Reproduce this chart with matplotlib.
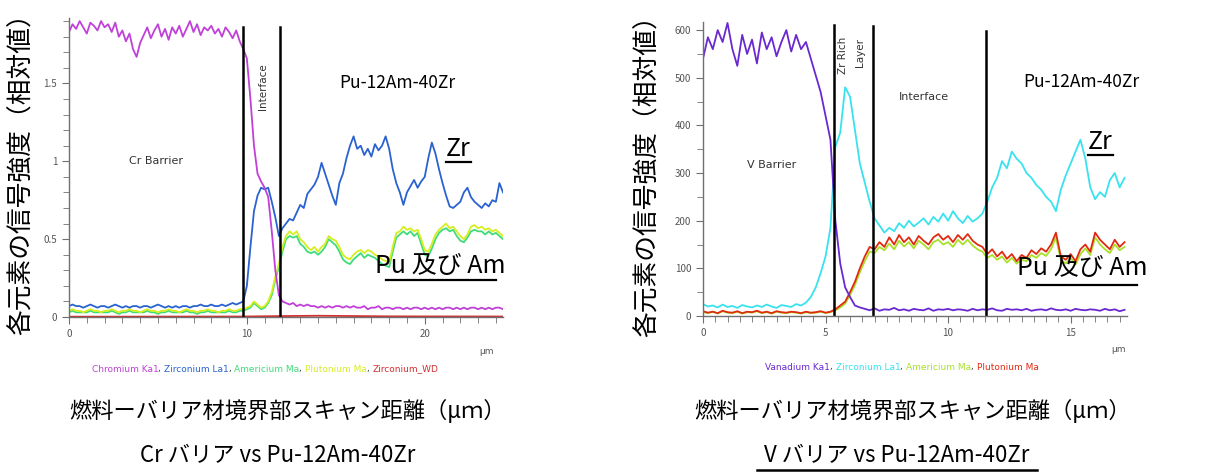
import numpy as np
import matplotlib
matplotlib.use('Agg')
import matplotlib.pyplot as plt
from matplotlib.lines import Line2D
from matplotlib.ticker import MultipleLocator, FuncFormatter
from matplotlib.offsetbox import TextArea, HPacker, AnnotationBbox

plt.rcParams['font.family'] = ['Noto Sans CJK JP', 'DejaVu Sans']

# ---- 左: Cr バリア (0.2 µm 刻み, 0〜24.4 µm)
cr_x = np.round(np.arange(123) * 0.2, 1)
cr_cr = [1.83, 1.88, 1.85, 1.90, 1.86, 1.82, 1.89, 1.87, 1.84, 1.90,
         1.86, 1.88, 1.83, 1.89, 1.80, 1.84, 1.77, 1.82, 1.72, 1.67,
         1.76, 1.81, 1.86, 1.79, 1.84, 1.88, 1.80, 1.85, 1.78, 1.86,
         1.82, 1.87, 1.80, 1.85, 1.90, 1.83, 1.88, 1.81, 1.86, 1.84,
         1.87, 1.82, 1.85, 1.80, 1.86, 1.83, 1.79, 1.84, 1.77,
         1.72, 1.66, 1.40, 1.10, 0.92, 0.87, 0.83, 0.77, 0.55, 0.30, 0.14, 0.10,
         0.09, 0.08, 0.09, 0.07, 0.08, 0.07, 0.08, 0.07, 0.07, 0.06,
         0.07, 0.06, 0.07, 0.06, 0.07, 0.07, 0.06, 0.07, 0.06, 0.07,
         0.06, 0.06, 0.07, 0.05, 0.06, 0.06, 0.07, 0.05, 0.06, 0.06,
         0.05, 0.06, 0.06, 0.05, 0.06, 0.05, 0.06, 0.06, 0.05, 0.06,
         0.05, 0.06, 0.05, 0.06, 0.05, 0.06, 0.06, 0.05, 0.06, 0.05,
         0.06, 0.05, 0.06, 0.06, 0.05, 0.06, 0.05, 0.06, 0.05, 0.06, 0.06, 0.05]
cr_zr = [0.07, 0.08, 0.07, 0.07, 0.06, 0.07, 0.08, 0.07, 0.06, 0.07,
         0.07, 0.06, 0.07, 0.08, 0.07, 0.06, 0.07, 0.06, 0.07, 0.07,
         0.06, 0.07, 0.07, 0.06, 0.07, 0.08, 0.07, 0.06, 0.07, 0.06,
         0.07, 0.06, 0.07, 0.07, 0.06, 0.07, 0.07, 0.08, 0.07, 0.07,
         0.08, 0.07, 0.07, 0.08, 0.07, 0.08, 0.09, 0.08, 0.09,
         0.10, 0.20, 0.45, 0.68, 0.78, 0.83, 0.82, 0.83, 0.74, 0.64, 0.52, 0.57,
         0.60, 0.63, 0.62, 0.67, 0.72, 0.70, 0.79, 0.82, 0.85, 0.90,
         0.99, 0.92, 0.85, 0.78, 0.72, 0.86, 0.92, 1.02, 1.10, 1.16,
         1.08, 1.10, 1.04, 1.08, 1.03, 1.11, 1.07, 1.10, 1.16, 1.08,
         0.95, 0.86, 0.80, 0.72, 0.80, 0.84, 0.88, 0.83, 0.87, 0.90,
         1.02, 1.12, 1.05, 0.95, 0.86, 0.78, 0.71, 0.70, 0.72, 0.74,
         0.80, 0.83, 0.77, 0.74, 0.72, 0.70, 0.73, 0.71, 0.75, 0.74, 0.86, 0.80]
cr_am = [0.03, 0.04, 0.03, 0.03, 0.03, 0.03, 0.04, 0.03, 0.03, 0.03,
         0.03, 0.03, 0.04, 0.03, 0.02, 0.03, 0.03, 0.04, 0.03, 0.03,
         0.03, 0.03, 0.04, 0.03, 0.03, 0.02, 0.03, 0.03, 0.04, 0.03,
         0.03, 0.03, 0.03, 0.04, 0.03, 0.03, 0.02, 0.03, 0.03, 0.04,
         0.03, 0.03, 0.03, 0.03, 0.03, 0.04, 0.03, 0.03, 0.04,
         0.04, 0.05, 0.06, 0.09, 0.07, 0.05, 0.06, 0.09, 0.14, 0.24, 0.32, 0.42,
         0.50, 0.52, 0.51, 0.52, 0.47, 0.45, 0.42, 0.41, 0.42, 0.40,
         0.42, 0.45, 0.50, 0.48, 0.46, 0.42, 0.37, 0.35, 0.34, 0.37,
         0.39, 0.41, 0.38, 0.40, 0.39, 0.38, 0.36, 0.34, 0.33, 0.32,
         0.42, 0.51, 0.53, 0.55, 0.53, 0.55, 0.52, 0.54, 0.47, 0.40,
         0.39, 0.44, 0.50, 0.54, 0.56, 0.57, 0.55, 0.56, 0.52, 0.49,
         0.48, 0.51, 0.55, 0.56, 0.55, 0.55, 0.53, 0.55, 0.53, 0.54, 0.52, 0.50]
cr_pu = [0.04, 0.05, 0.04, 0.04, 0.03, 0.04, 0.05, 0.04, 0.04, 0.03,
         0.04, 0.04, 0.05, 0.04, 0.03, 0.04, 0.04, 0.05, 0.04, 0.04,
         0.03, 0.04, 0.05, 0.04, 0.04, 0.03, 0.04, 0.04, 0.05, 0.04,
         0.04, 0.03, 0.04, 0.05, 0.04, 0.04, 0.03, 0.04, 0.04, 0.05,
         0.04, 0.04, 0.03, 0.04, 0.04, 0.05, 0.04, 0.04, 0.05,
         0.05, 0.06, 0.07, 0.10, 0.08, 0.06, 0.07, 0.10, 0.16, 0.26, 0.34, 0.45,
         0.52, 0.55, 0.53, 0.55, 0.50, 0.48, 0.45, 0.43, 0.45, 0.42,
         0.45, 0.47, 0.52, 0.50, 0.49, 0.45, 0.40, 0.38, 0.37, 0.40,
         0.42, 0.43, 0.41, 0.43, 0.42, 0.40, 0.39, 0.37, 0.36, 0.35,
         0.45, 0.54, 0.55, 0.58, 0.56, 0.57, 0.55, 0.56, 0.50, 0.43,
         0.42, 0.47, 0.53, 0.56, 0.58, 0.60, 0.57, 0.58, 0.55, 0.52,
         0.50, 0.53, 0.58, 0.59, 0.57, 0.58, 0.56, 0.57, 0.55, 0.56, 0.54, 0.52]
cr_wd_x = [0, 9.8, 12, 14, 16, 18, 24.4]
cr_wd = [0.002, 0.003, 0.006, 0.008, 0.006, 0.004, 0.003]
cr_bounds = [9.8, 11.85]

# ---- 右: V バリア (0.2 µm 刻み, 0〜17.2 µm)
v_x = np.round(np.arange(87) * 0.2, 1)
v_v = [540, 585, 560, 600, 575, 615, 560, 525, 590, 550,
       580, 530, 595, 560, 585, 545, 575, 600, 555, 590,
       560, 575, 540, 505, 470, 420, 370, 200, 110, 60, 40, 22, 18,
       15, 12, 16, 11, 14, 13, 17, 12, 14, 11,
       15, 13, 12, 16, 11, 14, 13, 15, 12, 14,
       13, 11, 15, 12, 14, 13, 16, 12, 11, 15,
       13, 14, 12, 15, 11, 13, 14, 12, 16, 13,
       12, 14, 11, 15, 13, 12, 14, 13, 11, 15, 12, 14, 10, 13]
v_zr = [25, 20, 22, 18, 24, 19, 21, 17, 23, 20,
        18, 22, 19, 24, 20, 17, 23, 21, 19, 25,
        22, 28, 40, 60, 90, 125, 185, 355, 385, 480, 460, 390, 320, 280, 240,
        205, 190, 175, 185, 178, 195, 185, 200, 188, 196,
        205, 192, 208, 198, 215, 200, 220, 205, 195, 210,
        198, 205, 215, 240, 270, 290, 325, 310, 345, 330,
        320, 300, 290, 275, 265, 250, 240, 220, 265, 295,
        320, 345, 370, 330, 270, 245, 260, 250, 285, 300, 270, 290]
v_pu = [10, 7, 9, 6, 11, 8, 7, 10, 6, 9,
        8, 11, 7, 9, 6, 10, 8, 7, 9, 8,
        6, 9, 7, 8, 10, 7, 9,
        14, 22, 30, 50, 72, 100, 125, 145, 140, 155, 145, 165, 150, 170,
        155, 165, 150, 168, 158, 150, 165, 172, 160, 168, 155, 170, 160, 172, 158, 150,
        145, 130, 140, 125, 135, 120, 130, 115, 128, 122, 138, 130, 142, 135, 150, 175,
        125, 118, 130, 115, 140, 150, 135, 175, 160, 150, 140, 160, 145, 155]
v_am = [8, 6, 9, 5, 10, 7, 6, 9, 5, 8,
        7, 10, 6, 8, 5, 9, 7, 6, 8, 7,
        5, 8, 6, 7, 9, 6, 8,
        12, 18, 26, 44, 65, 92, 115, 135, 132, 145, 138, 152, 140, 158,
        146, 155, 142, 158, 150, 140, 155, 160, 150, 155, 145, 160, 150, 160, 148, 140,
        135, 122, 128, 118, 125, 112, 122, 110, 118, 115, 128, 122, 132, 126, 140, 165,
        118, 110, 122, 108, 130, 142, 128, 165, 150, 140, 132, 150, 138, 145]
v_bounds = [5.33, 6.92, 11.56]
v_tops = [610, 608, 598]

W, H = 1226, 472
fig = plt.figure(figsize=(W / 100, H / 100), dpi=100)


def fx(x):
    return x / W


def fy(y):
    return 1 - y / H


def underline(x0, x1, y, lw=1.6):
    fig.add_artist(Line2D([fx(x0), fx(x1)], [fy(y), fy(y)],
                          transform=fig.transFigure, color='black', lw=lw))


def style_axes(ax):
    for s in ['top', 'right']:
        ax.spines[s].set_visible(False)
    for s in ['left', 'bottom']:
        ax.spines[s].set_color('#707070')
        ax.spines[s].set_linewidth(1.0)
    ax.tick_params(which='both', direction='out', colors='#707070',
                   labelsize=7, labelcolor='#555555')
    ax.tick_params(which='major', length=5)
    ax.tick_params(which='minor', length=4)
    ax.yaxis.set_major_formatter(FuncFormatter(lambda v, p: '%g' % v))


def color_line(pieces, x, y):
    areas = [TextArea(t, textprops=dict(color=c, fontsize=6.5, family='DejaVu Sans'))
             for t, c in pieces]
    box = HPacker(children=areas, align='baseline', pad=0, sep=0)
    ab = AnnotationBbox(box, (fx(x), fy(y)), xycoords='figure fraction',
                        frameon=False, box_alignment=(0.5, 0.5))
    fig.add_artist(ab)


# ---------------- 左グラフ
ax1 = fig.add_axes([fx(69), fy(317), fx(503) - fx(69), fy(18) - fy(317)])
ax1.plot(cr_x, cr_am, color='#3fdc7a', lw=1.3)
ax1.plot(cr_x, cr_pu, color='#d6ee1e', lw=1.3)
ax1.plot(cr_wd_x, cr_wd, color='#d03030', lw=1.3)
ax1.plot(cr_x, cr_zr, color='#2a62d0', lw=1.3)
ax1.plot(cr_x, cr_cr, color='#c040d8', lw=1.3)
for b in cr_bounds:
    ax1.plot([b, b], [0, 1.86], color='black', lw=1.8)
ax1.set_xlim(0, 24.4)
ax1.set_ylim(0, 1.92)
ax1.xaxis.set_major_locator(MultipleLocator(10))
ax1.xaxis.set_minor_locator(MultipleLocator(1))
ax1.yaxis.set_major_locator(MultipleLocator(0.5))
ax1.yaxis.set_minor_locator(MultipleLocator(0.1))
style_axes(ax1)
ax1.text(4.9, 1.0, 'Cr Barrier', fontsize=8, color='#333333', ha='center', va='center',
         family='DejaVu Sans')
ax1.text(10.9, 1.48, 'Interface', fontsize=7.5, color='#333333', rotation=90,
         ha='center', va='center', family='DejaVu Sans')
fig.text(fx(397), fy(83), 'Pu-12Am-40Zr', fontsize=12.5, ha='center', va='center')
fig.text(fx(458), fy(149), 'Zr', fontsize=18, ha='center', va='center')
underline(446, 471, 162)
fig.text(fx(440), fy(266), 'Pu 及び Am', fontsize=18, ha='center', va='center')
underline(386, 496, 280)
fig.text(fx(486), fy(352), 'µm', fontsize=6.5, color='#555555', ha='center', va='center',
         family='DejaVu Sans')
color_line([('Chromium Ka1', '#c040d8'), (', ', '#333333'),
            ('Zirconium La1', '#2a62d0'), (', ', '#333333'),
            ('Americium Ma', '#3fdc7a'), (', ', '#333333'),
            ('Plutonium Ma', '#d6ee1e'), (', ', '#333333'),
            ('Zirconium_WD', '#d03030')], 265, 369)

# ---------------- 右グラフ
ax2 = fig.add_axes([fx(703), fy(316), fx(1127) - fx(703), fy(22) - fy(316)])
ax2.plot(v_x, v_zr, color='#38e2ee', lw=1.3)
ax2.plot(v_x, v_am, color='#a8e02a', lw=1.3)
ax2.plot(v_x, v_pu, color='#e02a12', lw=1.3)
ax2.plot(v_x, v_v, color='#6a28d0', lw=1.3)
for b, t in zip(v_bounds, v_tops):
    ax2.plot([b, b], [0, t], color='black', lw=1.8)
ax2.set_xlim(0, 17.3)
ax2.set_ylim(0, 617)
ax2.xaxis.set_major_locator(MultipleLocator(5))
ax2.xaxis.set_minor_locator(MultipleLocator(0.5))
ax2.yaxis.set_major_locator(MultipleLocator(100))
ax2.yaxis.set_minor_locator(MultipleLocator(50))
style_axes(ax2)
ax2.text(2.8, 317, 'V Barrier', fontsize=8, color='#333333', ha='center', va='center',
         family='DejaVu Sans')
ax2.text(5.72, 548, 'Zr Rich', fontsize=7.5, color='#333333', rotation=90,
         ha='center', va='center', family='DejaVu Sans')
ax2.text(6.4, 552, 'Layer', fontsize=7.5, color='#333333', rotation=90,
         ha='center', va='center', family='DejaVu Sans')
ax2.text(9.0, 459, 'Interface', fontsize=8, color='#333333', ha='center', va='center',
         family='DejaVu Sans')
fig.text(fx(1081), fy(82), 'Pu-12Am-40Zr', fontsize=12.5, ha='center', va='center')
fig.text(fx(1100), fy(142), 'Zr', fontsize=18, ha='center', va='center')
underline(1088, 1113, 155)
fig.text(fx(1082), fy(268), 'Pu 及び Am', fontsize=18, ha='center', va='center')
underline(1027, 1137, 285)
fig.text(fx(1119), fy(350), 'µm', fontsize=6.5, color='#555555', ha='center', va='center',
         family='DejaVu Sans')
color_line([('Vanadium Ka1', '#6a28d0'), (', ', '#333333'),
            ('Zirconium La1', '#38e2ee'), (', ', '#333333'),
            ('Americium Ma', '#a8e02a'), (', ', '#333333'),
            ('Plutonium Ma', '#e02a12')], 902, 367)

# ---------------- 軸ラベル・タイトル
ylab = '各元素の信号強度（相対値）'
fig.text(fx(22), fy(168), ylab, fontsize=18.5, rotation=90, ha='center', va='center')
fig.text(fx(648), fy(170), ylab, fontsize=18.5, rotation=90, ha='center', va='center')
xlab = '燃料ーバリア材境界部スキャン距離（μｍ）'
fig.text(fx(288), fy(411), xlab, fontsize=16, ha='center', va='center')
fig.text(fx(913), fy(411), xlab, fontsize=16, ha='center', va='center')
fig.text(fx(278), fy(456), 'Cr バリア vs Pu-12Am-40Zr', fontsize=16, ha='center', va='center')
fig.text(fx(897), fy(456), 'V バリア vs Pu-12Am-40Zr', fontsize=16, ha='center', va='center')
underline(757, 1037, 470, lw=1.8)

fig.savefig('out.png', dpi=100)
